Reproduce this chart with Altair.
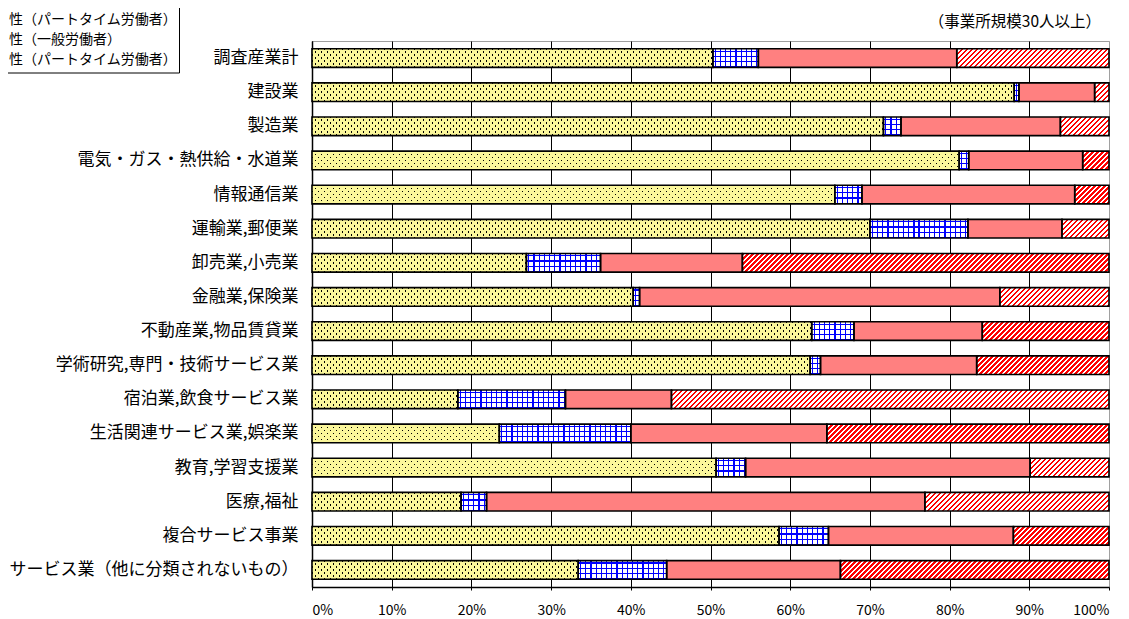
import altair as alt
import pandas as pd

# ---------------- data ----------------
categories = [
    "調査産業計", "建設業", "製造業", "電気・ガス・熱供給・水道業", "情報通信業",
    "運輸業,郵便業", "卸売業,小売業", "金融業,保険業", "不動産業,物品賃貸業",
    "学術研究,専門・技術サービス業", "宿泊業,飲食サービス業", "生活関連サービス業,娯楽業",
    "教育,学習支援業", "医療,福祉", "複合サービス事業", "サービス業（他に分類されないもの）",
]
series = ["男性（一般労働者）", "男性（パートタイム労働者）", "女性（一般労働者）", "女性（パートタイム労働者）"]

male_general = [50.3, 88.1, 71.7, 81.2, 65.6, 70.0, 26.9, 40.3, 62.7, 62.5, 18.3, 23.5, 50.7, 18.7, 58.6, 33.4]
male_part = [5.7, 0.6, 2.2, 1.2, 3.4, 12.3, 9.3, 0.8, 5.3, 1.3, 13.5, 16.5, 3.7, 3.2, 6.2, 11.1]
female_general = [24.9, 9.5, 20.0, 14.3, 26.7, 11.8, 17.8, 45.2, 16.1, 19.6, 13.3, 24.6, 35.7, 55.0, 23.2, 21.8]
female_part = [19.1, 1.8, 6.1, 3.3, 4.3, 5.9, 46.0, 13.7, 15.9, 16.6, 54.9, 35.4, 9.9, 23.1, 12.0, 33.7]

x_ticks = [0, 10, 20, 30, 40, 50, 60, 70, 80, 90, 100]
subtitle = "（事業所規模30人以上）"
# legend entries as visible in the (cropped) reference
legend_labels = ["性（パートタイム労働者）", "性（一般労働者）", "性（パートタイム労働者）"]

# ---------------- table ----------------
series_values = [male_general, male_part, female_general, female_part]
rows = []
sid = 0
for ci, cat in enumerate(categories):
    start = 0.0
    for si, s in enumerate(series):
        v = series_values[si][ci]
        rows.append(dict(sid=sid, cat=cat, series=s, sidx=si, value=v, start=start, end=start + v))
        start += v
        sid += 1
df = pd.DataFrame(rows)

# ---------------- style ----------------
FONT = "Noto Sans CJK JP"
PLOT_W, PLOT_H = 797, 546
PAD_IN = 0.452
BAR_H = PLOT_H / len(categories) * (1 - PAD_IN)
YELLOW = "#FBF79B"
SALMON = "#FF8080"
CLEAR = "rgba(0,0,0,0)"
series_fill = [YELLOW, "#FFFFFF", SALMON, "#FFFFFF"]


def stripe_stops(D, period, width, color, other, phase=0.0):
    stops = [{"offset": 0, "color": other}]
    k = -1
    while True:
        a = k * period + phase
        if a > D:
            break
        b = a + width
        if b > 0:
            a0 = round(max(a, 0.0) / D, 5)
            b0 = round(min(b, D) / D, 5)
            stops += [
                {"offset": a0, "color": other},
                {"offset": a0, "color": color},
                {"offset": b0, "color": color},
                {"offset": b0, "color": other},
            ]
        k += 1
    stops.append({"offset": 1, "color": other})
    return stops


def grad_vertical(W, period, width, color, other, phase=0.0):
    return {"gradient": "linear", "x1": 0, "y1": 0, "x2": 1, "y2": 0,
            "stops": stripe_stops(W, period, width, color, other, phase)}


def grad_horizontal(H, period, width, color, other, phase=0.0):
    return {"gradient": "linear", "x1": 0, "y1": 0, "x2": 0, "y2": 1,
            "stops": stripe_stops(H, period, width, color, other, phase)}


def grad_slash(W, H, period, width, color, other, phase=0.0):
    c = (W + H) / (W + H * H / W)
    return {"gradient": "linear", "x1": 0, "y1": 0, "x2": round(c, 6), "y2": round(c * H / W, 6),
            "stops": stripe_stops(W + H, period, width, color, other, phase)}


def grad_backslash(W, H, period, width, color, other, phase=0.0):
    c = (W + H) / (W + H * H / W)
    return {"gradient": "linear", "x1": 0, "y1": 1, "x2": round(c, 6), "y2": round(1 - c * H / W, 6),
            "stops": stripe_stops(W + H, period, width, color, other, phase)}


# ---------------- encodings ----------------
x_enc = alt.X(
    "start:Q",
    scale=alt.Scale(domain=[0, 100], nice=False, zero=True),
    axis=alt.Axis(
        values=x_ticks, labelExpr="datum.value + '%'", title=None, grid=True,
        gridColor={"condition": {"test": "datum.value === 100", "value": "#A0A0A0"}, "value": "#000000"},
        gridWidth=1, domainColor="#000000", domainWidth=1.5, tickColor="#000000", tickSize=3,
        labelPadding=13, labelFontSize=14, labelColor="#000000", labelFont=FONT,
    ),
)
x2_enc = alt.X2("end:Q")
y_enc = alt.Y(
    "cat:N", sort=categories,
    scale=alt.Scale(paddingInner=PAD_IN, paddingOuter=PAD_IN / 2),
    axis=alt.Axis(title=None, ticks=False, grid=False, domainColor="#000000", domainWidth=1.5,
                  labelFontSize=17, labelPadding=14, labelLimit=400, labelColor="#000000", labelFont=FONT),
)

layers = []
base = alt.Chart().mark_bar(strokeWidth=0).encode(
    x=x_enc, x2=x2_enc, y=y_enc,
    color=alt.Color("series:N", scale=alt.Scale(domain=series, range=series_fill), legend=None),
)
layers.append(base)


def seg(sid_, grad):
    return alt.Chart().transform_filter(f"datum.sid == {sid_}").mark_bar(fill=grad, strokeWidth=0).encode(
        x=x_enc, x2=x2_enc, y=y_enc)


for r in rows:
    W = r["value"] / 100.0 * PLOT_W
    H = BAR_H
    if W <= 0:
        continue
    if r["sidx"] == 0:  # dotted yellow
        layers.append(seg(r["sid"], grad_slash(W, H, 6.0, 1.7, "#000000", CLEAR)))
        layers.append(seg(r["sid"], grad_backslash(W, H, 6.0, 1.7, CLEAR, YELLOW)))
    elif r["sidx"] == 1:  # blue grid
        layers.append(seg(r["sid"], grad_vertical(W, 5.2, 1.2, "#0000FF", CLEAR, 1.8)))
        layers.append(seg(r["sid"], grad_horizontal(H, 5.2, 1.2, "#0000FF", CLEAR, 1.8)))
    elif r["sidx"] == 3:  # red hatch
        layers.append(seg(r["sid"], grad_slash(W, H, 5.0, 2.5, "#FF0000", CLEAR)))

outline = alt.Chart().mark_bar(fillOpacity=0, stroke="#000000", strokeWidth=1.6).encode(
    x=x_enc, x2=x2_enc, y=y_enc)
layers.append(outline)

one = pd.DataFrame({"a": [0]})
sub = alt.Chart(pd.DataFrame({"t": [subtitle]})).mark_text(
    align="right", baseline="middle", fontSize=15.5, font=FONT, color="#000000"
).encode(text="t:N", x=alt.value(789), y=alt.value(-19))
layers.append(sub)

for lbl, yy in zip(legend_labels, [-21, -1, 19]):
    layers.append(
        alt.Chart(pd.DataFrame({"t": [lbl]})).mark_text(
            align="left", baseline="middle", fontSize=14, font=FONT, color="#000000"
        ).encode(text="t:N", x=alt.value(-303), y=alt.value(yy))
    )

layers.append(alt.Chart(one).mark_rule(color="#000000", strokeWidth=1).encode(
    x=alt.value(-132.5), y=alt.value(-45), y2=alt.value(32)))
layers.append(alt.Chart(one).mark_rule(color="#000000", strokeWidth=1).encode(
    x=alt.value(-330), x2=alt.value(-132.5), y=alt.value(32)))

chart = alt.layer(*layers, data=df).properties(
    width=PLOT_W, height=PLOT_H,
    autosize=alt.AutoSizeParams(type="none"),
    padding={"left": 304, "top": 33, "right": 12, "bottom": 30},
).configure(font=FONT).configure_view(stroke="#A0A0A0", strokeWidth=1)

chart.save("out.html", embed_options={"renderer": "svg", "actions": False})
